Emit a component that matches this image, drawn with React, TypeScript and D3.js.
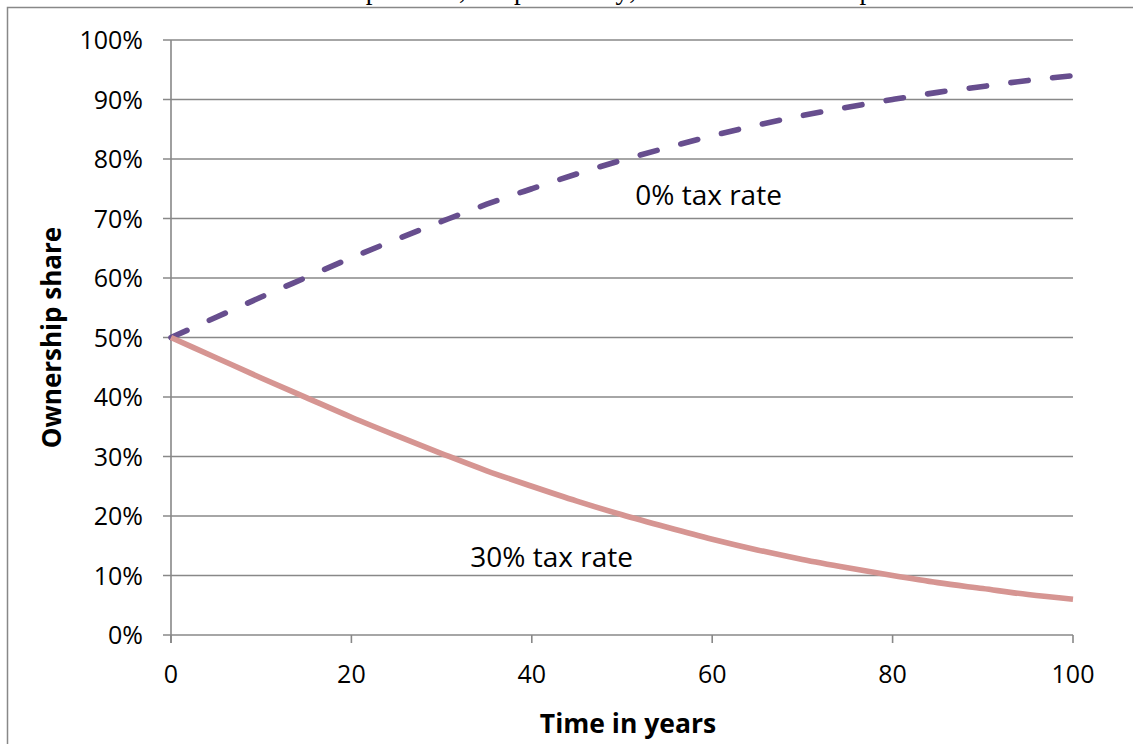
import React from 'react'
import * as d3 from 'd3'

// years since start
const years = [0, 5, 10, 15, 20, 25, 30, 35, 40, 45, 50, 55, 60, 65, 70, 75, 80, 85, 90, 95, 100]
// ownership share (%)
const zeroTax = [50.0, 53.4, 56.8, 60.1, 63.4, 66.5, 69.5, 72.4, 75.0, 77.5, 79.8, 81.9, 83.9, 85.7, 87.3, 88.7, 90.0, 91.2, 92.2, 93.2, 94.0]
const thirtyTax = [50.0, 46.6, 43.2, 39.9, 36.6, 33.5, 30.5, 27.6, 25.0, 22.5, 20.2, 18.1, 16.1, 14.3, 12.7, 11.3, 10.0, 8.8, 7.8, 6.8, 6.0]

const xTicks = [0, 20, 40, 60, 80, 100]
const yTicks = [0, 10, 20, 30, 40, 50, 60, 70, 80, 90, 100]

const labels = [
    { text: '0% tax rate', t: 59.6, v: 72.3 },
    { text: '30% tax rate', t: 42.2, v: 11.4 },
]

const pageText = 'and taxed at 30 percent, respectively, and all after-tax profits are reinvested.'

export default function App() {
    const width = 1133
    const height = 744
    var gridColor = '#888888'
    var font = "'Open Sans', sans-serif"

    const x = d3.scaleLinear().domain([0, 100]).range([171, 1073])
    const y = d3.scaleLinear().domain([0, 100]).range([635, 40])

    const line = d3.line<number>()
        .x((d, i) => x(years[i]))
        .y(d => y(d))
        .curve(d3.curveMonotoneX)

    return (
        <div style={{ position: 'absolute', left: 0, top: 0 }}>
            <svg width={width} height={height} style={{ display: 'block', background: '#fff' }}>
                {/* cut-off line of the page text above the figure */}
                <text x={163} y={-1.5} fontFamily="'Liberation Serif', serif" fontSize={27}
                    textLength={975} lengthAdjust="spacing" fill="#000">{pageText}</text>

                {/* chart frame */}
                <rect x={7.5} y={7.5} width={1200} height={800} fill="none" stroke={gridColor} strokeWidth={1.5} />

                {/* gridlines + y ticks */}
                {yTicks.map(t => (
                    <g key={'y' + t}>
                        <line x1={163} x2={x(100)} y1={y(t)} y2={y(t)} stroke={gridColor} strokeWidth={1.6} />
                        <text x={143} y={y(t)} dy="0.36em" textAnchor="end" fontFamily={font} fontSize={25} fill="#000">{t + '%'}</text>
                    </g>
                ))}
                <line x1={x(0)} x2={x(0)} y1={y(100)} y2={y(0) + 8} stroke={gridColor} strokeWidth={1.6} />

                {/* x ticks */}
                {xTicks.map(t => (
                    <g key={'x' + t}>
                        <line x1={x(t)} x2={x(t)} y1={y(0)} y2={y(0) + 8} stroke={gridColor} strokeWidth={1.6} />
                        <text x={x(t)} y={683} textAnchor="middle" fontFamily={font} fontSize={25} fill="#000">{t}</text>
                    </g>
                ))}

                {/* series */}
                <path d={line(zeroTax) || ''} fill="none" stroke="#674e8e" strokeWidth={5.6}
                    strokeDasharray="17.5 24.5" strokeLinecap="round" />
                <path d={line(thirtyTax) || ''} fill="none" stroke="#d69592" strokeWidth={5.6} />

                {labels.map(l => (
                    <text key={l.text} x={x(l.t)} y={y(l.v)} textAnchor="middle" fontFamily={font} fontSize={28} fill="#000">{l.text}</text>
                ))}

                {/* axis titles */}
                <text transform={`translate(61,${y(50)}) rotate(-90)`} textAnchor="middle" fontFamily={font}
                    fontWeight="bold" fontSize={26} fill="#000">Ownership share</text>
                <text x={628} y={733} textAnchor="middle" fontFamily={font} fontWeight="bold" fontSize={26.5} fill="#000">Time in years</text>
            </svg>
        </div>
    )
}
